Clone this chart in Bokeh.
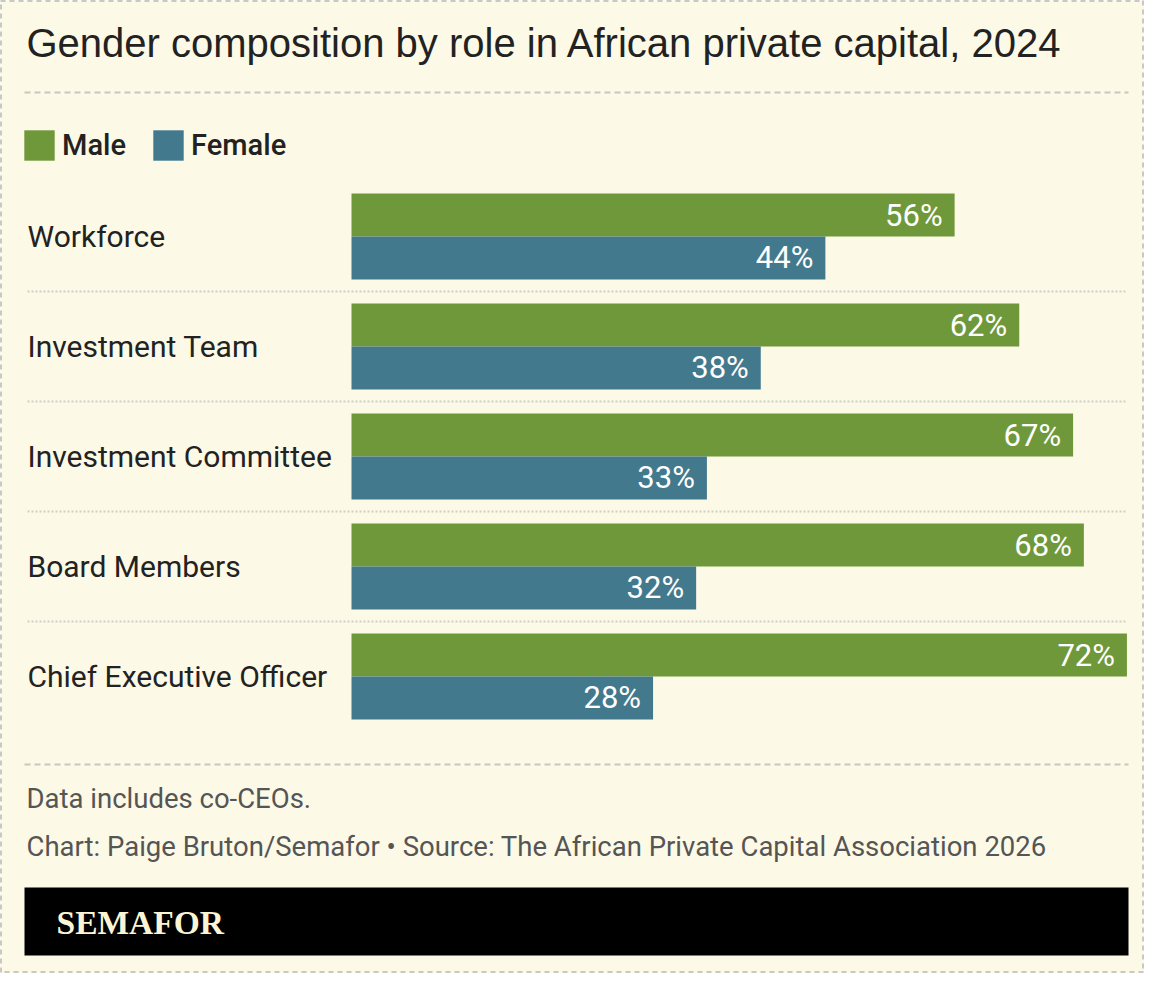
from bokeh.plotting import figure
from bokeh.models import ColumnDataSource, Range1d, Legend, LegendItem
from bokeh.transform import dodge
from bokeh.core.properties import value
from bokeh.embed import file_html
from bokeh.resources import INLINE

# ---- data ----
roles = ["Workforce", "Investment Team", "Investment Committee", "Board Members", "Chief Executive Officer"]
male = [56, 62, 67, 68, 72]
female = [44, 38, 33, 32, 28]
series_names = ["Male", "Female"]
title_text = "Gender composition by role in African private capital, 2024"
note_text = "Data includes co-CEOs."
credit_text = "Chart: Paige Bruton/Semafor \u2022 Source: The African Private Capital Association 2026"
brand_text = "SEMAFOR"

# ---- style ----
BG = "#fcf9e6"
GREEN = "#6f983b"
BLUE = "#43798d"
INK = "#222222"
GREY = "#555555"
RULE = "#c9c8c0"

W, H = 1144, 973
ZERO_PX, PX_PER = 351.0, 10.77   # where 0% sits, px per percentage point
ROW0_PX, ROW_PX = 236.0, 110.0   # centre of first row, row pitch


def px2x(px):
    return (px - ZERO_PX) / PX_PER


def px2y(py):
    return (py - ROW0_PX) / ROW_PX


idx = list(range(len(roles)))
src = ColumnDataSource(dict(
    idx=idx, role=roles, male=male, female=female,
    male_lbl=[f"{v}%" for v in male], female_lbl=[f"{v}%" for v in female],
))

p = figure(width=W, height=H, output_backend="svg", toolbar_location=None,
           x_range=Range1d(px2x(0), px2x(W)),
           y_range=Range1d(px2y(H), px2y(0)),
           min_border=0, x_axis_location=None, y_axis_location=None)
p.grid.visible = False
p.background_fill_color = BG
p.border_fill_color = BG
p.outline_line_color = "#c8c8c4"
p.outline_line_dash = "5 4"
p.outline_line_width = 3

BAR_H = 0.39
D = BAR_H / 2
rm = p.hbar(y=dodge("idx", -D, range=p.y_range), left=0, right="male", height=BAR_H,
            source=src, fill_color=GREEN, line_color=None)
rf = p.hbar(y=dodge("idx", D, range=p.y_range), left=0, right="female", height=BAR_H,
            source=src, fill_color=BLUE, line_color=None)

lbl_kw = dict(text_align="right", text_baseline="middle", text_color="white",
              text_font=value("Roboto"), text_font_size="31px", x_offset=-12, source=src)
p.text(x="male", y=dodge("idx", -D, range=p.y_range), text="male_lbl", **lbl_kw)
p.text(x="female", y=dodge("idx", D, range=p.y_range), text="female_lbl", **lbl_kw)

# category labels
p.text(x=px2x(27), y="idx", text="role", source=src, text_align="left", text_baseline="middle",
       text_color=INK, text_font=value("Roboto"), text_font_size="30px")

# dotted separators between rows
p.segment(x0=px2x(27), x1=px2x(1127), y0=[i + 0.5 for i in idx[:-1]], y1=[i + 0.5 for i in idx[:-1]],
          line_color="#cfcfc6", line_width=2, line_dash="2 2")

# title
p.text(x=px2x(26), y=px2y(42), text=[title_text], text_align="left", text_baseline="middle",
       text_color=INK, text_font=value("Liberation Sans"), text_font_size="40px")

# dashed rules
for ry in (92, 764):
    p.segment(x0=px2x(24), x1=px2x(1128), y0=px2y(ry), y1=px2y(ry),
              line_color=RULE, line_width=2, line_dash="6 4")

# footer notes
p.text(x=px2x(26), y=px2y(798), text=[note_text], text_align="left", text_baseline="middle",
       text_color=GREY, text_font=value("Roboto"), text_font_size="27.5px")
p.text(x=px2x(26), y=px2y(846), text=[credit_text], text_align="left", text_baseline="middle",
       text_color=GREY, text_font=value("Roboto"), text_font_size="27.5px")

# brand banner
p.quad(left=px2x(24), right=px2x(1128), top=px2y(887), bottom=px2y(955),
       fill_color="black", line_color=None)
p.text(x=px2x(56), y=px2y(922), text=[brand_text], text_align="left", text_baseline="middle",
       text_color="#fbf5d6", text_font=value("Liberation Serif"), text_font_style="bold",
       text_font_size="33.5px")

# legend (area glyphs are drawn inset by 10% on each side)
GL = 38
legend = Legend(items=[LegendItem(label=series_names[0], renderers=[rm]),
                       LegendItem(label=series_names[1], renderers=[rf])],
                orientation="horizontal", location=(20, H - 164),
                glyph_width=GL, glyph_height=GL, label_standoff=4, spacing=23,
                padding=0, margin=0, border_line_color=None, background_fill_alpha=0,
                label_text_font="Roboto Medium", label_text_font_size="29px",
                label_text_color=INK, label_height=GL)
p.add_layout(legend)

open("out.html", "w").write(file_html(p, INLINE))
